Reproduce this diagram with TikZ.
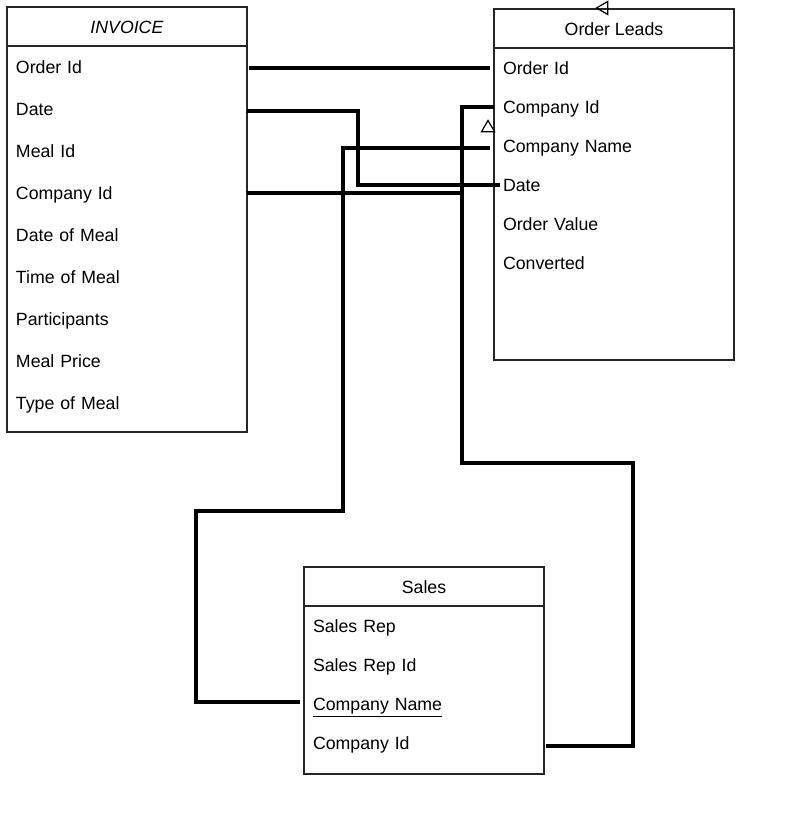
\documentclass[tikz,border=0pt]{standalone}
\usepackage{fontspec}
\setmainfont{Liberation Sans}
\usetikzlibrary{arrows.meta,positioning,shapes.geometric}
\begin{document}
\begin{tikzpicture}[x=0.75pt,y=-0.75pt,
  ebox/.style={draw=black!85,line width=1pt,minimum width=180pt,inner sep=0pt},
  ehead/.style={draw=black!85,line width=1pt,minimum width=180pt,minimum height=29.25pt,inner sep=0pt,text height=12.6pt,text depth=2.8pt,font=\fontsize{13.3}{16}\selectfont},
  erow/.style={minimum width=180pt,text width=166.5pt,inner xsep=6.75pt,inner ysep=0pt,align=left,text height=12.6pt,text depth=2.8pt,font=\fontsize{13.3}{16}\selectfont},
  link/.style={line width=2.3pt},
  tri/.style={draw,isosceles triangle,isosceles triangle apex angle=60,inner sep=0pt,minimum height=8.5pt,line width=0.9pt}]
\useasboundingbox (0,0) rectangle (792,824);
\node[ebox,minimum height=318.75pt] (inv) at (127,219.5) {};
\node[ehead,anchor=north] (invHead) at (inv.north) {\textit{INVOICE}};
\node[erow] (invOrd) at (127,67) {Order Id};
\node[erow] (invDate) at (127,109) {Date};
\node[erow] (invMeal) at (127,151) {Meal Id};
\node[erow] (invCid) at (127,193) {Company Id};
\node[erow] (invDom) at (127,235) {Date of Meal};
\node[erow] (invTom) at (127,277) {Time of Meal};
\node[erow] (invPart) at (127,319) {Participants};
\node[erow] (invPrice) at (127,361) {Meal Price};
\node[erow] (invType) at (127,403) {Type of Meal};
\node[ebox,minimum height=263.25pt] (ol) at (614,184.5) {};
\node[ehead,anchor=north] (olHead) at (ol.north) {Order Leads};
\node[erow] (olOrd) at (614,68) {Order Id};
\node[erow] (olCid) at (614,107) {Company Id};
\node[erow] (olCname) at (614,146) {Company Name};
\node[erow] (olDate) at (614,185) {Date};
\node[erow] (olValue) at (614,224) {Order Value};
\node[erow] (olConv) at (614,263) {Converted};
\node[ebox,minimum height=155.25pt] (sl) at (424,670.5) {};
\node[ehead,anchor=north] (slHead) at (sl.north) {Sales};
\node[erow] (slRep) at (424,626) {Sales Rep};
\node[erow] (slRepId) at (424,665) {Sales Rep Id};
\node[erow] (slCname) at (424,704) {\underline{Company Name}};
\node[erow] (slCid) at (424,743) {Company Id};
\node[tri,shape border rotate=180] (tipLeft) at (604,8) {};
\node[tri,shape border rotate=90] (tipUp) at (488,128) {};
\coordinate (dateBend) at (358,150);
\coordinate (cnBend) at (343,511);
\coordinate (cnDrop) at (196,600);
\coordinate (cidBend) at (462,463);
\coordinate (cidDrop) at (633,600);
\draw[link,shorten <=1.5pt,shorten >=3pt] (invOrd.east |- olOrd.west) -- (olOrd.west);
\draw[link,shorten >=-4.5pt] ([yshift=-1.5pt]invDate.east) -| (dateBend) |- (olDate.west);
\draw[link,shorten <=3pt,shorten >=3pt] ([yshift=-1.5pt]olCname.west) -| (cnBend) -| (cnDrop) |- ([yshift=1.5pt]slCname.west);
\draw[link,shorten >=1pt] (olCid.west) -| (cidBend) -| (cidDrop) |- ([yshift=-2.25pt]slCid.east);
\draw[link] (invCid.east) -- (invCid.east -| cidBend);
\end{tikzpicture}
\end{document}
